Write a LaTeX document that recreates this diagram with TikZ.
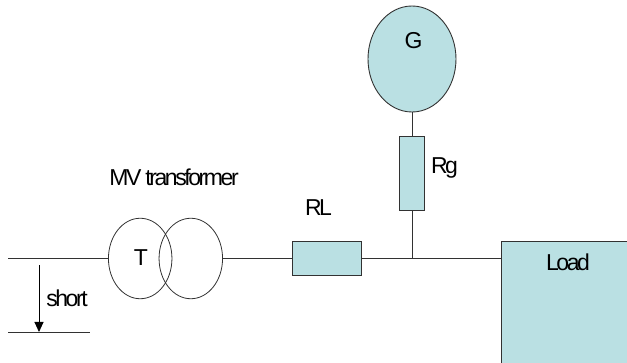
\documentclass[tikz,border=0pt]{standalone}
\usepackage{fontspec}
\newfontfamily\labelfont[LetterSpace=-10.5]{Liberation Sans}
\definecolor{partfill}{RGB}{186,224,227}
\definecolor{partline}{RGB}{50,50,50}
\tikzset{
  part/.style={draw=partline,fill=partfill,line width=0.9pt,inner sep=0pt},
  winding/.style={draw=partline,ellipse,line width=0.8pt,inner sep=0pt,minimum width=63.5pt,minimum height=80.5pt},
  wire/.style={draw=partline,line width=0.8pt},
  caption/.style={font=\labelfont\fontsize{23}{27}\selectfont,text=black,inner sep=0pt}
}
\usetikzlibrary{shapes.geometric,arrows.meta}
\begin{document}
\begin{tikzpicture}[x=1pt,y=1pt,yscale=-1,xscale=1]
\useasboundingbox (0,0) rectangle (627,363);
\clip (0,0) rectangle (627,363);

\node (G) [part,ellipse,minimum width=88pt,minimum height=106pt] at (412,59) {};
\node (Rg) [part,minimum width=25pt,minimum height=73.5pt] at (412,173.5) {};
\node (RL) [part,minimum width=69.5pt,minimum height=33.5pt] at (327,258.5) {};
\node (Load) [part,minimum width=160pt,minimum height=160pt,anchor=north west] at (500.5,241.5) {};
\node (T1) [winding] at (140.2,258.5) {};
\node (T2) [winding] at (190.8,258.5) {};
\coordinate (junction) at (412,258.5);
\coordinate (busleft) at (8,258.5);
\coordinate (shortleft) at (8,332);
\coordinate (shortright) at (89.5,332);
\coordinate (arrowtop) at (39,265.5);
\coordinate (arrowend) at (39,332);

\draw [wire] (busleft) -- (T1.west);
\draw [wire] (T2.east) -- (RL.west);
\draw [wire] (RL.east) -- (junction);
\draw [wire] (junction) -- (junction -| Load.west);
\draw [wire] (G.south) -- (Rg.north);
\draw [wire] (Rg.south) -- (junction);
\draw [wire] (shortleft) -- (shortright);
\draw [line width=0.9pt,-{Triangle[length=10pt,width=9pt]}] (arrowtop) -- (arrowend);

\node (Glabel) [caption] at (413.5,41) {G};
\node (Tlabel) [caption] at (141,258) {T};
\node (Rglabel) [caption] at (444.5,168) {Rg};
\node (RLlabel) [caption] at (318.5,208) {RL};
\node (Loadlabel) [caption] at (568,262) {Load};
\node (MVlabel) [caption] at (174,177) {MV transformer};
\node (shortlabel) [caption] at (67,298) {short};

\end{tikzpicture}
\end{document}
